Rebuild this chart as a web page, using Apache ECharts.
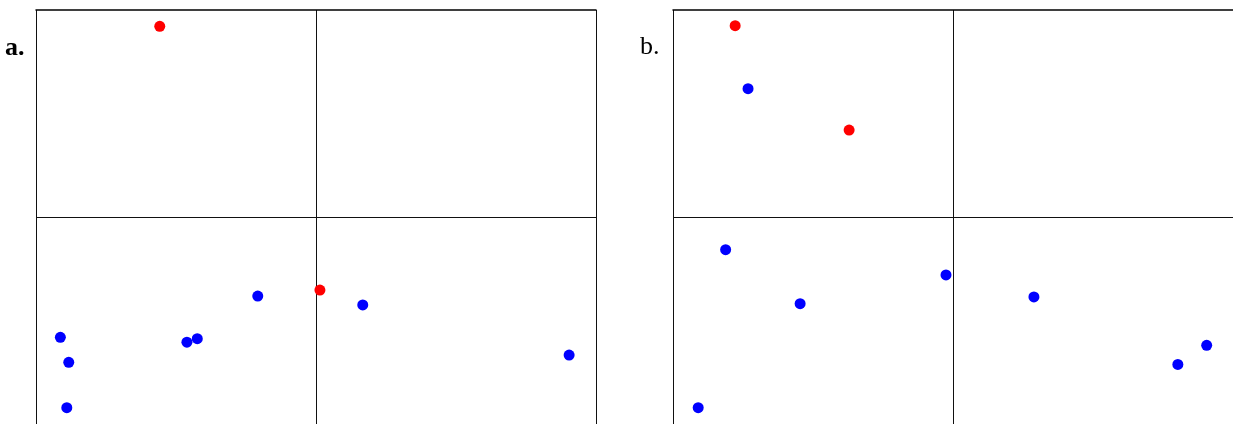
<!DOCTYPE html>
<html>
<head>
<meta charset="utf-8">
<script src="https://cdn.jsdelivr.net/npm/echarts@6/dist/echarts.min.js"></script>
<style>
  html, body { margin: 0; padding: 0; background: #fff; }
  #chart { width: 1233px; height: 426px; }
</style>
</head>
<body>
<div id="chart"></div>
<script>
// points as [x, y], both axes run -1..1 with the cross at 0
const panelLabels = ['a.', 'b.'];

const aRed = [[-0.558, 0.921], [0.014, -0.353]];
const aBlue = [
  [-0.208, -0.382], [0.167, -0.425], [0.904, -0.667], [-0.913, -0.581],
  [-0.883, -0.702], [-0.890, -0.921], [-0.461, -0.605], [-0.424, -0.588]
];

const bRed = [[-0.778, 0.924], [-0.371, 0.420]];
const bBlue = [
  [-0.732, 0.620], [-0.812, -0.158], [-0.546, -0.419], [-0.025, -0.280],
  [0.289, -0.386], [0.803, -0.712], [0.906, -0.620], [-0.910, -0.921]
];

const chart = echarts.init(document.getElementById('chart'), null, { renderer: 'canvas' });

function makeXAxis(gridIndex) {
  return {
    gridIndex: gridIndex,
    type: 'value',
    position: 'top',
    min: -1,
    max: 1,
    interval: 1,
    axisLine: { show: true, onZero: false, lineStyle: { color: '#000', width: 1.5 } },
    axisTick: { show: false },
    axisLabel: { show: false },
    splitLine: { show: true, lineStyle: { color: '#111', width: 1 } }
  };
}

function makeYAxis(gridIndex) {
  return {
    gridIndex: gridIndex,
    type: 'value',
    min: -1,
    max: 1,
    axisLine: { show: false },
    axisTick: { show: false },
    axisLabel: { show: false },
    splitLine: { show: false }
  };
}

function dots(idx, data, color, withCross) {
  const s = {
    type: 'scatter',
    xAxisIndex: idx,
    yAxisIndex: idx,
    data: data,
    symbolSize: 11,
    itemStyle: { color: color, opacity: 1 },
    silent: true,
    z: 5
  };
  if (withCross) {
    s.markLine = {
      silent: true,
      symbol: 'none',
      label: { show: false },
      lineStyle: { color: '#111', width: 1, type: 'solid', opacity: 1 },
      data: [{ yAxis: 0 }]
    };
  }
  return s;
}

const option = {
  animation: false,
  backgroundColor: '#fff',
  grid: [
    { left: 36, top: 10, width: 560, height: 414 },
    { left: 673, top: 10, width: 560, height: 414 }
  ],
  xAxis: [makeXAxis(0), makeXAxis(1)],
  yAxis: [makeYAxis(0), makeYAxis(1)],
  graphic: [
    {
      type: 'text', left: 5, top: 35,
      style: { text: panelLabels[0], font: 'bold 26px "Liberation Serif"', fill: '#000' }
    },
    {
      type: 'text', left: 640, top: 34,
      style: { text: panelLabels[1], font: '26px "Liberation Serif"', fill: '#000' }
    }
  ],
  series: [
    dots(0, aBlue, '#0000ff', true),
    dots(0, aRed, '#ff0000', false),
    dots(1, bBlue, '#0000ff', true),
    dots(1, bRed, '#ff0000', false)
  ]
};

chart.setOption(option);
</script>
</body>
</html>
